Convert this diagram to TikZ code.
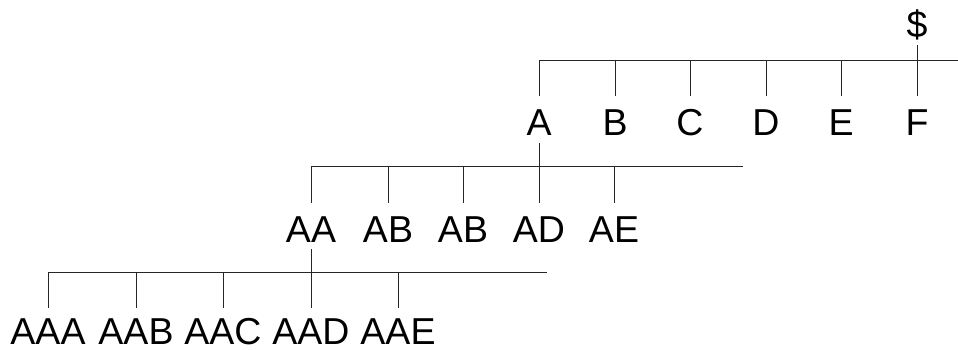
\documentclass[tikz,border=0pt]{standalone}
\usepackage{fontspec}
\setmainfont{Liberation Sans}
\begin{document}
\begin{tikzpicture}[x=1pt,y=-1pt,
  lbl/.style={font=\fontsize{37.5}{40}\selectfont, inner sep=0pt, text height=27pt, text depth=0pt, anchor=base},
  ln/.style={line width=1pt, draw=black!85}]
\useasboundingbox (0,0) rectangle (958,349);
% labels
\node[lbl, text height=, text depth=] (dollar) at (917,37) {\$};
\foreach \n/\x in {A/539,B/615,C/690,D/766,E/841,F/917}
  \node[lbl] (\n) at (\x,135) {\n};
\node[lbl] (AA) at (311,242) {AA};
\node[lbl] (AB) at (388,242) {AB};
\node[lbl] (AC) at (463,242) {AB};
\node[lbl] (AD) at (539,242) {AD};
\node[lbl] (AE) at (614,242) {AE};
\node[lbl] (AAA) at (48,344.5) {AAA};
\node[lbl] (AAB) at (136,344.5) {AAB};
\node[lbl] (AAC) at (223,344.5) {AAC};
\node[lbl] (AAD) at (311,344.5) {AAD};
\node[lbl] (AAE) at (398,344.5) {AAE};
% bars
\coordinate (b1L) at (539,60);  \coordinate (b1R) at (958,60);
\coordinate (b2L) at (311,166); \coordinate (b2R) at (743,166);
\coordinate (b3L) at (48,272);  \coordinate (b3R) at (547,272);
\draw[ln] (b1L) -- (b1R);
\draw[ln] (b2L) -- (b2R);
\draw[ln] (b3L) -- (b3R);
% ticks
\foreach \n in {A,B,C,D,E,F}
  \draw[ln] ([yshift=12pt]\n.north) -- (\n.north |- b1L);
\foreach \n in {AA,AB,AC,AD,AE}
  \draw[ln] ([yshift=12pt]\n.north) -- (\n.north |- b2L);
\foreach \n in {AAA,AAB,AAC,AAD,AAE}
  \draw[ln] ([yshift=9pt]\n.north) -- (\n.north |- b3L);
% links
\draw[ln] ([yshift=-8pt]dollar.base) -- ([yshift=12pt]F.north);
\draw[ln] ([yshift=-8pt]A.south) -- ([yshift=12pt]AD.north);
\draw[ln] ([yshift=-7pt]AA.south) -- ([yshift=9pt]AAD.north);
\end{tikzpicture}
\end{document}
